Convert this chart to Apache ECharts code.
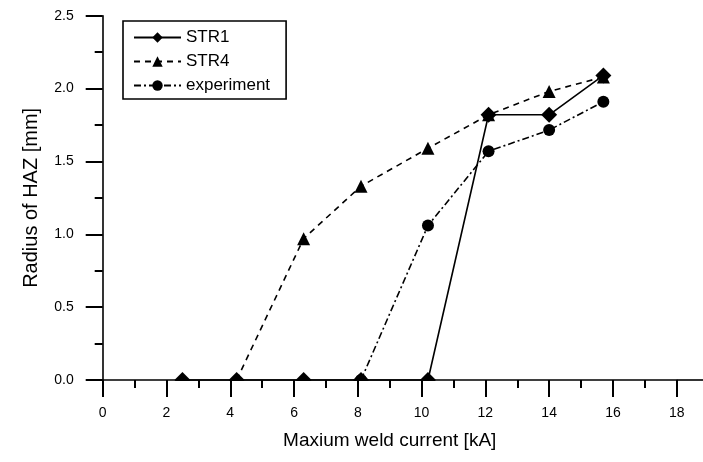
<!DOCTYPE html>
<html>
<head>
<meta charset="utf-8">
<script src="https://cdn.jsdelivr.net/npm/echarts@6/dist/echarts.min.js"></script>
<style>
  html, body { margin: 0; padding: 0; background: #fff; }
  #chart { width: 703px; height: 462px; }
</style>
</head>
<body>
<div id="chart"></div>
<script>
// Weld current values (kA) at which the HAZ radius was evaluated
const currents = [2.5, 4.2, 6.3, 8.1, 10.2, 12.1, 14.0, 15.7];
// HAZ radius (mm); null where a series has no point
const str1 = [0, 0, 0, 0, 0, 1.82, 1.82, 2.09];
const str4 = [null, 0, 0.97, 1.33, 1.59, 1.82, 1.98, 2.08];
const experiment = [null, null, null, 0, 1.06, 1.57, 1.715, 1.91];

const xTicks = [0, 2, 4, 6, 8, 10, 12, 14, 16, 18];
const yTicks = [0.0, 0.5, 1.0, 1.5, 2.0, 2.5];

function pairs(ys) {
  const out = [];
  ys.forEach((y, i) => { if (y !== null) out.push([currents[i], y]); });
  return out;
}

const font = 'Liberation Sans, Arial, sans-serif';
const chart = echarts.init(document.getElementById('chart'));

const axisCommon = {
  type: 'value',
  z: 10,
  splitLine: { show: false },
  axisLine: { show: true, onZero: false, lineStyle: { color: '#000', width: 1.6 } },
  axisTick: { show: true, inside: false, length: 17, lineStyle: { color: '#000', width: 2 } },
  minorTick: { show: true, splitNumber: 2, length: 8, lineStyle: { color: '#000', width: 2 } },
  minorSplitLine: { show: false },
  nameLocation: 'middle'
};

const option = {
  animation: false,
  backgroundColor: '#fff',
  grid: { left: 102.7, right: 26.3, top: 15.7, bottom: 82 },
  legend: {
    orient: 'vertical',
    left: 123,
    top: 21,
    backgroundColor: '#fff',
    borderColor: '#000',
    borderWidth: 1.6,
    borderRadius: 0,
    padding: [8, 16, 5, 10],
    itemWidth: 47,
    itemHeight: 13,
    itemGap: 7,
    textStyle: { fontFamily: font, fontSize: 17, color: '#000' },
    data: ['STR1', 'STR4', 'experiment']
  },
  xAxis: Object.assign({}, axisCommon, {
    min: xTicks[0],
    max: xTicks[xTicks.length - 1],
    interval: 2,
    name: 'Maxium weld current [kA]',
    nameGap: 51,
    nameTextStyle: { fontFamily: font, fontSize: 19, color: '#000' },
    axisLabel: { margin: 26, fontFamily: font, fontSize: 14, color: '#000' }
  }),
  yAxis: Object.assign({}, axisCommon, {
    min: yTicks[0],
    max: yTicks[yTicks.length - 1],
    interval: 0.5,
    name: 'Radius of HAZ [mm]',
    nameGap: 61,
    nameTextStyle: { fontFamily: font, fontSize: 20, color: '#000' },
    axisLabel: {
      margin: 29, fontFamily: font, fontSize: 14, color: '#000',
      formatter: v => v.toFixed(1)
    }
  }),
  series: [
    {
      name: 'STR1', type: 'line', data: pairs(str1),
      symbol: 'diamond', symbolSize: 16, clip: false,
      itemStyle: { color: '#000' },
      lineStyle: { color: '#000', width: 1.6, type: 'solid' }
    },
    {
      name: 'STR4', type: 'line', data: pairs(str4),
      symbol: 'triangle', symbolSize: 13, clip: false,
      itemStyle: { color: '#000' },
      lineStyle: { color: '#000', width: 1.6, type: [6, 5] }
    },
    {
      name: 'experiment', type: 'line', data: pairs(experiment),
      symbol: 'circle', symbolSize: 12, clip: false,
      itemStyle: { color: '#000' },
      lineStyle: { color: '#000', width: 1.6, type: [7, 3, 2, 3] }
    }
  ]
};

chart.setOption(option);

// Markers sitting on the zero line are cut off below the x axis,
// and the x axis line runs on past the last tick to the edge.
const p0 = chart.convertToPixel({ gridIndex: 0 }, [xTicks[0], 0]);
const p1 = chart.convertToPixel({ gridIndex: 0 }, [xTicks[xTicks.length - 1], 0]);
chart.setOption({
  graphic: [
    {
      type: 'rect', z: 5, silent: true,
      shape: { x: p0[0] + 1, y: p0[1] + 1, width: p1[0] - p0[0], height: 10 },
      style: { fill: '#fff' }
    },
    {
      type: 'line', z: 11, silent: true,
      shape: { x1: p1[0], y1: p1[1], x2: chart.getWidth(), y2: p1[1] },
      style: { stroke: '#000', lineWidth: 1.6 }
    }
  ]
});
</script>
</body>
</html>
